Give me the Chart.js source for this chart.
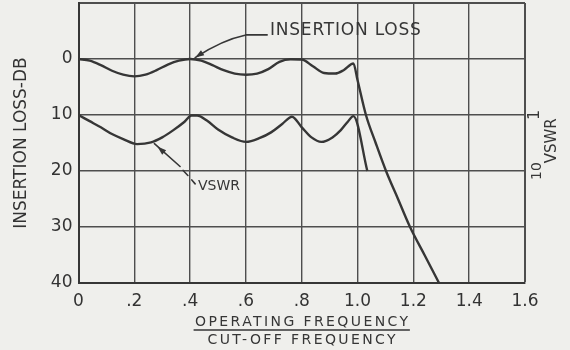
<!doctype html>
<html lang="en">
  <head>
    <title>Insertion Loss and VSWR</title>
    <meta charset="utf-8" />
    <style>
      body { margin: 0; background: #efefec; }
      canvas { display: block; }
    </style>
  </head>

  <body>
    <canvas id="loss-vswr" width="570" height="350"></canvas>

    <script src="https://cdn.jsdelivr.net/npm/chart.js@4.4.1/dist/chart.umd.min.js"></script>
    <script>
      // operating frequency / cut-off frequency
      const lossFreq = [0, 0.04, 0.08, 0.12, 0.16, 0.2, 0.24, 0.28, 0.32, 0.36, 0.4,
        0.44, 0.48, 0.52, 0.56, 0.6, 0.64, 0.68, 0.72, 0.76, 0.8, 0.84, 0.88, 0.92,
        0.95, 0.985, 1.0, 1.03, 1.065, 1.102, 1.145, 1.188, 1.24, 1.292];
      // insertion loss, dB
      const lossDb = [0, 0.3, 1.1, 2.1, 2.8, 3.1, 2.8, 2.0, 1.0, 0.3, 0,
        0.3, 1.1, 2.0, 2.6, 2.8, 2.6, 1.8, 0.5, 0.05, 0.1, 1.3, 2.5, 2.6,
        2.0, 0.8, 3.8, 10, 15, 20, 25, 30, 35, 40];

      const vswrFreq = [0, 0.04, 0.08, 0.12, 0.16, 0.21, 0.26, 0.3, 0.34, 0.38, 0.405,
        0.425, 0.46, 0.5, 0.55, 0.6, 0.65, 0.69, 0.73, 0.765, 0.8, 0.835, 0.87, 0.91,
        0.94, 0.965, 0.985, 1.035];
      // VSWR drawn on the dB grid (10 = VSWR 1, 20 = VSWR 10)
      const vswrDb = [10, 11.1, 12.2, 13.4, 14.3, 15.2, 14.9, 14.0, 12.7, 11.2, 10.1,
        10.1, 11.0, 12.6, 14.0, 14.8, 14.1, 13.1, 11.6, 10.3, 12.2, 14.0, 14.8, 14.0,
        12.7, 11.2, 10.2, 20];

      const xTickLabels = ["0", ".2", ".4", ".6", ".8", "1.0", "1.2", "1.4", "1.6"];
      const yTickValues = [-10, 0, 10, 20, 30, 40];
      const yTickLabels = ["", "0", "10", "20", "30", "40"];
      const vswrTicks = [[10, "1"], [20, "10"]];
      const xTitle = ["OPERATING FREQUENCY", "CUT-OFF FREQUENCY"];

      const ink = "#363636";
      const gridInk = "#4e4e4e";
      const face = '"DejaVu Sans", sans-serif';

      function toPoints(xs, ys) {
        return xs.map((v, i) => ({ x: v, y: ys[i] }));
      }

      function arrowHead(ctx, fx, fy, tx, ty, len, half) {
        const a = Math.atan2(ty - fy, tx - fx);
        ctx.beginPath();
        ctx.moveTo(tx, ty);
        ctx.lineTo(tx - len * Math.cos(a) + half * Math.sin(a), ty - len * Math.sin(a) - half * Math.cos(a));
        ctx.lineTo(tx - len * Math.cos(a) - half * Math.sin(a), ty - len * Math.sin(a) + half * Math.cos(a));
        ctx.closePath();
        ctx.fill();
      }

      // callouts, right-hand VSWR scale and the fraction under the x axis
      const notes = {
        id: "notes",
        afterDraw(chart) {
          const { ctx, chartArea: area, scales: { x, y } } = chart;
          const P = (f, db) => [x.getPixelForValue(f), y.getPixelForValue(db)];
          ctx.save();
          ctx.strokeStyle = ink;
          ctx.fillStyle = ink;
          ctx.lineWidth = 1.6;
          ctx.lineCap = "round";

          // INSERTION LOSS callout
          const [d0x, d0y] = P(0.6, -4.3);
          const [d1x, d1y] = P(0.676, -4.3);
          const [cx, cy] = P(0.514, -3.4);
          const [tx, ty] = P(0.418, -0.25);
          ctx.beginPath();
          ctx.moveTo(d1x, d1y);
          ctx.lineTo(d0x, d0y);
          ctx.quadraticCurveTo(cx, cy, tx, ty);
          ctx.stroke();
          arrowHead(ctx, cx, cy, tx, ty, 9, 3);
          ctx.font = "17px " + face;
          ctx.letterSpacing = "0.8px";
          ctx.textAlign = "left";
          ctx.textBaseline = "middle";
          const [lx, ly] = P(0.686, -5.0);
          ctx.fillText("INSERTION LOSS", lx, ly);

          // VSWR callout, broken leader
          const [vtx, vty] = P(0.272, 15.1);
          const [v1x, v1y] = P(0.364, 19.2);
          const [v2x, v2y] = P(0.375, 19.9);
          const [v3x, v3y] = P(0.392, 20.8);
          const [v4x, v4y] = P(0.406, 21.6);
          const [v5x, v5y] = P(0.418, 22.3);
          ctx.beginPath();
          ctx.moveTo(v1x, v1y); ctx.lineTo(vtx, vty);
          ctx.moveTo(v2x, v2y); ctx.lineTo(v3x, v3y);
          ctx.moveTo(v4x, v4y); ctx.lineTo(v5x, v5y);
          ctx.stroke();
          arrowHead(ctx, v1x, v1y, vtx + 3, vty + 3, 9, 3);
          ctx.font = "14px " + face;
          ctx.letterSpacing = "0px";
          const [wx, wy] = P(0.428, 22.8);
          ctx.fillText("VSWR", wx, wy);

          // VSWR scale on the right, lettered sideways
          ctx.textAlign = "center";
          vswrTicks.forEach(([db, label], i) => {
            ctx.save();
            ctx.font = (i === 0 ? "16px " : "14px ") + face;
            ctx.translate(area.right + (i === 0 ? 10 : 12), y.getPixelForValue(db));
            ctx.rotate(-Math.PI / 2);
            ctx.fillText(label, 0, 0);
            ctx.restore();
          });
          ctx.save();
          ctx.font = "15px " + face;
          ctx.translate(area.right + 27, y.getPixelForValue(14.6));
          ctx.rotate(-Math.PI / 2);
          ctx.fillText("VSWR", 0, 0);
          ctx.restore();

          // x-axis title as a fraction
          const mid = (area.left + area.right) / 2;
          ctx.font = "14px " + face;
          ctx.letterSpacing = "2.4px";
          ctx.fillText(xTitle[0], mid + 1, area.bottom + 39);
          ctx.fillText(xTitle[1], mid + 1, area.bottom + 57);
          const w = ctx.measureText(xTitle[0]).width;
          ctx.lineWidth = 1.4;
          ctx.beginPath();
          ctx.moveTo(mid - w / 2, area.bottom + 47);
          ctx.lineTo(mid + w / 2, area.bottom + 47);
          ctx.stroke();
          ctx.restore();
        },
      };

      const ctx = document.getElementById("loss-vswr");
      new Chart(ctx, {
        type: "line",
        data: {
          datasets: [
            {
              label: "Insertion loss",
              data: toPoints(lossFreq, lossDb),
              borderColor: ink,
              borderWidth: 2.4,
              pointRadius: 0,
              cubicInterpolationMode: "monotone",
            },
            {
              label: "VSWR",
              data: toPoints(vswrFreq, vswrDb),
              borderColor: ink,
              borderWidth: 2.4,
              pointRadius: 0,
              cubicInterpolationMode: "monotone",
            },
          ],
        },
        options: {
          responsive: false,
          animation: false,
          devicePixelRatio: 1,
          layout: { padding: { left: 0, top: 3, right: 45, bottom: 0 } },
          plugins: {
            legend: { display: false },
            tooltip: { enabled: false },
          },
          scales: {
            x: {
              type: "linear",
              min: 0,
              max: 1.6,
              ticks: {
                stepSize: 0.2,
                padding: 8,
                color: "#333",
                font: { family: face, size: 17 },
                maxRotation: 0,
                callback: (v, i) => xTickLabels[i],
              },
              grid: {
                color: gridInk,
                lineWidth: (c) => (c.index === 8 ? 2 : 1.4),
                drawTicks: false,
              },
              border: { color: ink, width: 2 },
              afterFit: (s) => { s.height = 67; },
            },
            y: {
              reverse: true,
              min: -10,
              max: 40,
              ticks: {
                stepSize: 10,
                padding: 6,
                color: "#333",
                font: { family: face, size: 17 },
                callback: (v) => yTickLabels[yTickValues.indexOf(v)],
              },
              grid: {
                color: gridInk,
                lineWidth: (c) => (c.tick && c.tick.value === -10 ? 2 : 1.4),
                drawTicks: false,
              },
              border: { color: ink, width: 2 },
              title: {
                display: true,
                text: "INSERTION LOSS-DB",
                color: "#333",
                font: { family: face, size: 17 },
                padding: { top: 11, bottom: 0 },
              },
              afterFit: (s) => {
                s.width = 78.5;
                s.paddingTop = 0;
                s.paddingBottom = 0;
              },
            },
          },
        },
        plugins: [notes],
      });
    </script>
  </body>
</html>
